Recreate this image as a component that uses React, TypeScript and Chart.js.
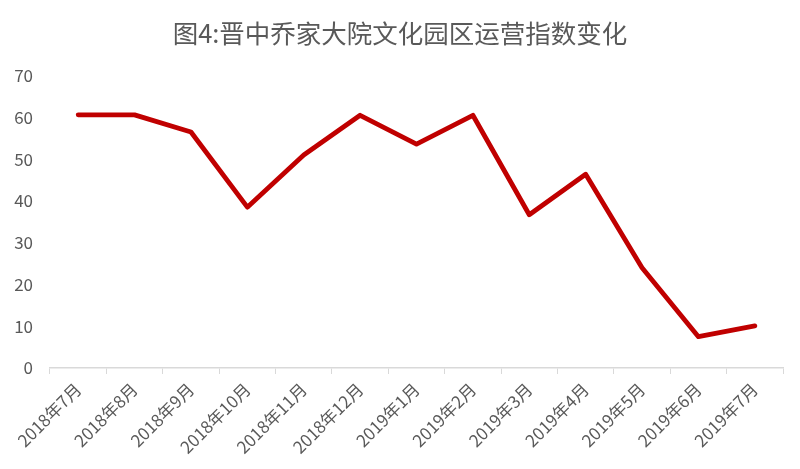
import React, { useEffect, useRef } from "react";
import { Chart, registerables } from "chart.js";

Chart.register(...registerables);

const TITLE = "图4:晋中乔家大院文化园区运营指数变化";
const CATEGORIES = [
  "2018年7月", "2018年8月", "2018年9月", "2018年10月", "2018年11月", "2018年12月",
  "2019年1月", "2019年2月", "2019年3月", "2019年4月", "2019年5月", "2019年6月", "2019年7月",
];
const VALUES = [60.6, 60.6, 56.5, 38.5, 51.0, 60.5, 53.6, 60.5, 36.7, 46.4, 24.0, 7.5, 10.1];
const Y_MIN = 0;
const Y_MAX = 70;
const Y_STEP = 10;

export default function App() {
  const ref = useRef<HTMLCanvasElement>(null);
  useEffect(() => {
    document.body.style.margin = "0";
    const canvas = ref.current;
    if (!canvas) return;
    const font = '"Noto Sans CJK SC", "Noto Sans", sans-serif';
    const chart = new Chart(canvas, {
      type: "line",
      data: {
        labels: CATEGORIES,
        datasets: [
          {
            data: VALUES,
            borderColor: "#C00000",
            backgroundColor: "#C00000",
            borderWidth: 4.8,
            pointRadius: 0,
            tension: 0,
            borderCapStyle: "round",
            borderJoinStyle: "round",
          },
        ],
      },
      options: {
        animation: false,
        responsive: false,
        maintainAspectRatio: false,
        layout: { padding: { left: 0, right: 0, top: 0, bottom: 0 } },
        plugins: {
          legend: { display: false },
          tooltip: { enabled: false },
          title: {
            display: true,
            text: TITLE,
            color: "#595959",
            font: { family: font, size: 25.5, weight: "normal" },
            padding: { top: 18, bottom: 27 },
          },
        },
        scales: {
          x: {
            type: "category",
            offset: true,
            grid: {
              display: true,
              drawOnChartArea: false,
              drawTicks: true,
              tickLength: 6,
              color: "#D9D9D9",
              offset: true,
            },
            border: { display: true, color: "#D9D9D9", width: 1.5 },
            ticks: {
              color: "#595959",
              font: { family: font, size: 17 },
              minRotation: 45,
              maxRotation: 45,
              autoSkip: false,
              padding: 5,
            },
            afterFit: (s: any) => {
              s.height = 101;
            },
          },
          y: {
            min: Y_MIN,
            max: Y_MAX,
            grid: { display: false, drawTicks: false },
            border: { display: false },
            ticks: {
              stepSize: Y_STEP,
              color: "#595959",
              font: { family: font, size: 17 },
              padding: 17,
            },
            afterFit: (s: any) => {
              s.width = 50;
            },
          },
          yRight: {
            position: "right",
            min: Y_MIN,
            max: Y_MAX,
            grid: { display: false, drawTicks: false },
            border: { display: false },
            ticks: { display: false },
            afterFit: (s: any) => {
              s.width = 17;
            },
          },
        },
      },
    });
    return () => chart.destroy();
  }, []);
  return (
    <div style={{ width: 800, height: 469, background: "#fff" }}>
      <canvas ref={ref} width={800} height={469} style={{ display: "block" }} />
    </div>
  );
}
